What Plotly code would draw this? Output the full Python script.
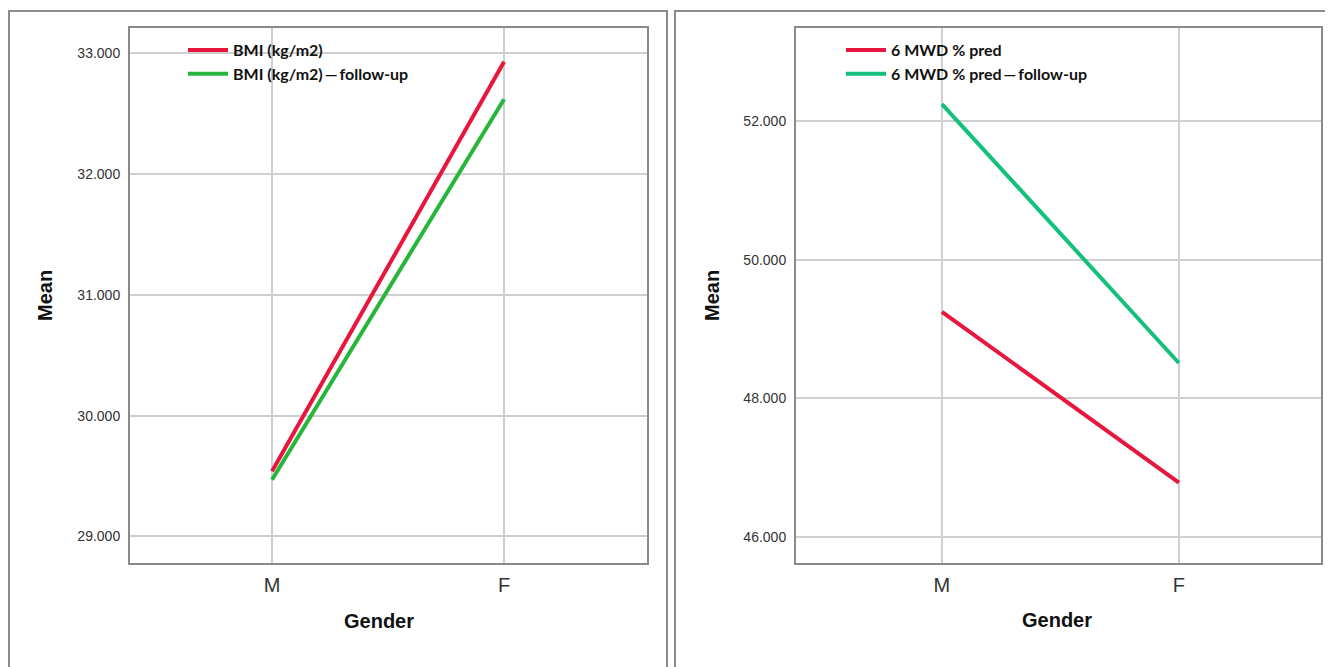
import plotly.graph_objects as go

# page offset (browser body margin) compensation
OFF = 8
W, H = 1333 - 2 * OFF, 667 - OFF

categories = ["M", "F"]
bmi = [29.54, 32.93]
bmi_follow = [29.47, 32.62]
mwd = [49.25, 46.78]
mwd_follow = [52.25, 48.51]

left_ticks = [29, 30, 31, 32, 33]
right_ticks = [46, 48, 50, 52]

RED = "#e8163c"
GREEN = "#27b53a"
TEAL = "#14c07c"

fig = go.Figure()
fig.add_trace(go.Scatter(x=categories, y=bmi, mode="lines", name="BMI (kg/m2)",
                         line=dict(color=RED, width=4), xaxis="x", yaxis="y", legend="legend"))
fig.add_trace(go.Scatter(x=categories, y=bmi_follow, mode="lines", name="BMI (kg/m2)\u2009\u2014\u2009follow-up",
                         line=dict(color=GREEN, width=4), xaxis="x", yaxis="y", legend="legend"))
fig.add_trace(go.Scatter(x=categories, y=mwd, mode="lines", name="6 MWD % pred",
                         line=dict(color=RED, width=4), xaxis="x2", yaxis="y2", legend="legend2"))
fig.add_trace(go.Scatter(x=categories, y=mwd_follow, mode="lines", name="6 MWD % pred\u2009\u2014\u2009follow-up",
                         line=dict(color=TEAL, width=4), xaxis="x2", yaxis="y2", legend="legend2"))

def px(x):
    return (x - OFF) / W

def py(y):
    return 1 - (y - OFF) / H

axis_common = dict(showline=True, mirror=True, linecolor="#8a8a8a", linewidth=2,
                   showgrid=True, gridcolor="#cfcfcf", gridwidth=1.5, zeroline=False,
                   ticks="", fixedrange=True)

tick_font = dict(size=14, color="#333333", family="Liberation Sans")
cat_font = dict(size=20, color="#333333", family="Liberation Sans")
leg_font = dict(family="Lato", size=16, color="#111111", weight="bold")

fig.update_layout(
    width=W, height=H,
    margin=dict(l=0, r=0, t=0, b=0),
    paper_bgcolor="white", plot_bgcolor="white",
    font=dict(family="Liberation Sans", color="#333333"),
    xaxis=dict(domain=[px(130), px(647)], anchor="y", type="category", range=[-0.612, 1.616],
               tickfont=cat_font, ticklabelstandoff=3, **axis_common),
    yaxis=dict(domain=[py(563), py(28)], anchor="x", range=[28.78, 33.21], tickvals=left_ticks,
               ticktext=[f"{v:.3f}" for v in left_ticks], tickfont=tick_font, ticklabelstandoff=5,
               **axis_common),
    xaxis2=dict(domain=[px(796), px(1321)], anchor="y2", type="category", range=[-0.616, 1.600],
                tickfont=cat_font, ticklabelstandoff=3, **axis_common),
    yaxis2=dict(domain=[py(563), py(28)], anchor="x2", range=[45.62, 53.35], tickvals=right_ticks,
                ticktext=[f"{v:.3f}" for v in right_ticks], tickfont=tick_font, ticklabelstandoff=5,
                **axis_common),
    legend=dict(x=px(183), y=py(33), xanchor="left", yanchor="top", bgcolor="rgba(255,255,255,0)",
                font=leg_font, tracegroupgap=0, itemwidth=40, traceorder="normal"),
    legend2=dict(x=px(841), y=py(33), xanchor="left", yanchor="top", bgcolor="rgba(255,255,255,0)",
                 font=leg_font, tracegroupgap=0, itemwidth=40, traceorder="normal"),
    showlegend=True,
)

# Outer panel frames
fig.add_shape(type="rect", xref="paper", yref="paper", x0=px(9), x1=px(667), y0=py(690), y1=py(11),
              line=dict(color="#8c8c8c", width=2), layer="below")
fig.add_shape(type="rect", xref="paper", yref="paper", x0=px(675), x1=px(1350), y0=py(690), y1=py(11),
              line=dict(color="#8c8c8c", width=2), layer="below")

# Axis titles
for xc, yc, txt, ang in [(45, 296, "Mean", -90), (712, 296, "Mean", -90),
                         (379, 621, "Gender", 0), (1057, 620, "Gender", 0)]:
    fig.add_annotation(x=px(xc), y=py(yc), xref="paper", yref="paper", text=f"<b>{txt}</b>",
                       showarrow=False, textangle=ang, xanchor="center", yanchor="middle",
                       font=dict(size=20, color="#111111", family="Liberation Sans"))

fig.write_html("out.html")
